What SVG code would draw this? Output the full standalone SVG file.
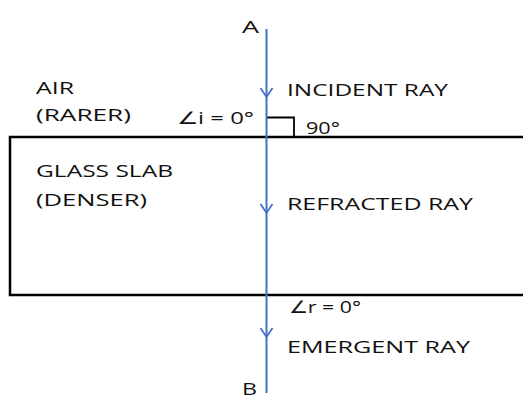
<svg xmlns="http://www.w3.org/2000/svg" width="523" height="399" viewBox="0 0 523 399">
<style>
text{font-family:"Open Sans","Liberation Sans",sans-serif;font-size:17px;fill:#111}
.ray{stroke:#4472C4;stroke-width:2;fill:none}
.chev{stroke:#4472C4;stroke-width:1.8;fill:none}
</style>
<rect width="523" height="399" fill="#fff"/>
<g id="slab"><rect x="10" y="137" width="520" height="158" fill="none" stroke="#000" stroke-width="2.5"/>
<text x="36" y="177" textLength="137" lengthAdjust="spacingAndGlyphs">GLASS SLAB</text><text x="36" y="206" textLength="111" lengthAdjust="spacingAndGlyphs">(DENSER)</text></g>
<g id="air"><text x="36" y="94" textLength="38" lengthAdjust="spacingAndGlyphs">AIR</text><text x="36" y="121" textLength="95" lengthAdjust="spacingAndGlyphs">(RARER)</text></g>
<g id="rightangle"><path d="M266 117.5H294V137" fill="none" stroke="#000" stroke-width="1.8"/><text x="306" y="134" textLength="34" lengthAdjust="spacingAndGlyphs">90°</text></g>
<g id="labels">
<text x="242" y="33" textLength="17" lengthAdjust="spacingAndGlyphs">A</text>
<text x="242" y="395" font-size="15" textLength="15" lengthAdjust="spacingAndGlyphs">B</text>
<text x="287" y="96" textLength="161" lengthAdjust="spacingAndGlyphs">INCIDENT RAY</text>
<text x="177" y="124" textLength="77" lengthAdjust="spacingAndGlyphs">∠i = 0°</text>
<text x="287" y="210" textLength="186" lengthAdjust="spacingAndGlyphs">REFRACTED RAY</text>
<text x="289" y="313" textLength="72" lengthAdjust="spacingAndGlyphs">∠r = 0°</text>
<text x="287" y="353" textLength="183" lengthAdjust="spacingAndGlyphs">EMERGENT RAY</text>
</g>
<g id="connectors">
<line class="ray" x1="266.5" y1="29" x2="266.5" y2="393"/>
<path class="chev" d="M260.5 88L266.5 97L272.5 88"/>
<path class="chev" d="M260.5 204L266.5 213L272.5 204"/>
<path class="chev" d="M260.5 328L266.5 337L272.5 328"/>
</g>
</svg>
